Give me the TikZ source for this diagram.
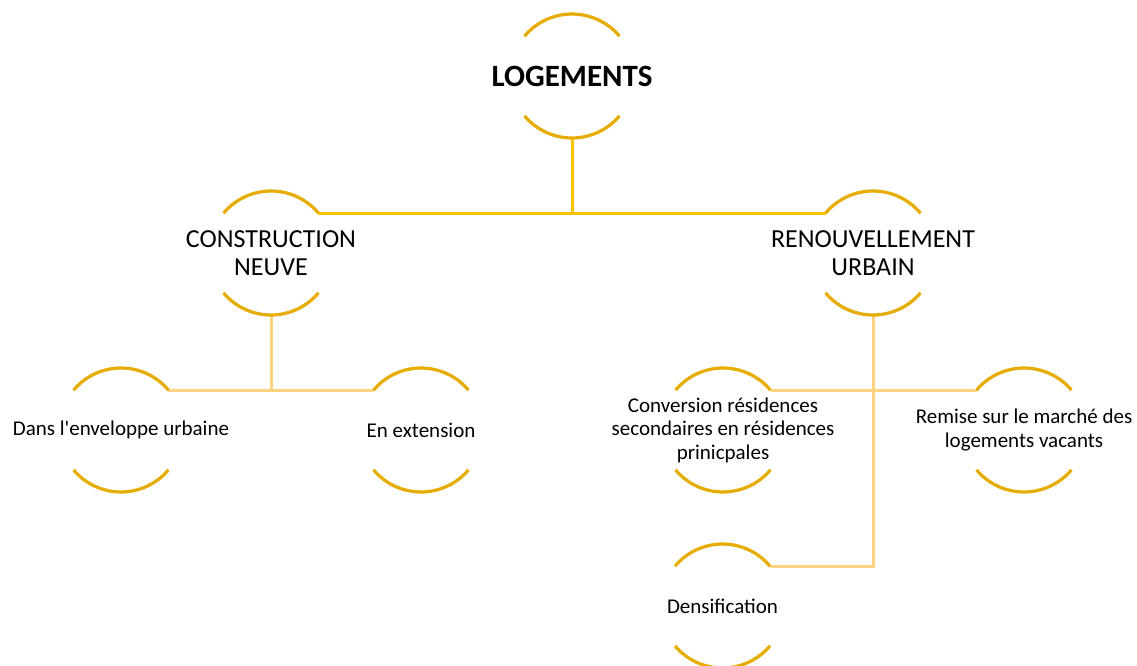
\documentclass[tikz,border=0pt]{standalone}
\usepackage{fontspec}
\setmainfont{Carlito}[Ligatures=TeXOff]
\usetikzlibrary{calc}
\definecolor{arcc}{HTML}{E6AC00}
\definecolor{topc}{HTML}{FFC000}
\definecolor{lowc}{HTML}{FFD37F}
\newcommand\ringpts[1]{%
  \coordinate (#1-tr) at ($(#1.center)+(40:62)$);
  \coordinate (#1-tl) at ($(#1.center)+(140:62)$);
  \coordinate (#1-b) at ($(#1.center)+(270:62)$);
  \coordinate (#1-bl) at ($(#1.center)+(220:62)$);}
\newcommand\ringarcs[1]{%
  \draw[arcline] (#1-tr) arc[start angle=40,end angle=140,radius=62];
  \draw[arcline] (#1-bl) arc[start angle=220,end angle=320,radius=62];}
\begin{document}
\begin{tikzpicture}[x=1pt,y=1pt,
  arcline/.style={draw=arcc,line width=3.2pt},
  topline/.style={draw=topc,line width=3pt},
  lowline/.style={draw=lowc,line width=3pt},
  bigtxt/.style={font=\fontsize{31}{37}\selectfont\bfseries, align=center, inner sep=0pt},
  midtxt/.style={font=\fontsize{26}{28}\selectfont, align=center, inner sep=0pt},
  smalltxt/.style={font=\fontsize{21}{23.5}\selectfont, align=center, inner sep=0pt}]
\useasboundingbox (0,0) rectangle (1137,-665);
\clip (0,0) rectangle (1137,-665);
\fill[white] (0,0) rectangle (1137,-665);

\node[bigtxt] (L) at (572,-76) {LOGEMENTS};
\node[midtxt] (C) at (271,-253) {CONSTRUCTION\\NEUVE};
\node[midtxt] (R) at (873,-253) {RENOUVELLEMENT\\URBAIN};
\node[smalltxt] (D) at (121,-430) {Dans l'enveloppe urbaine};
\node[smalltxt] (E) at (421,-430) {En extension};
\node[smalltxt] (V) at (723,-430) {Conversion résidences\\secondaires en résidences\\prinicpales};
\node[smalltxt] (M) at (1024,-430) {Remise sur le marché des\\logements vacants};
\node[smalltxt] (S) at (722.5,-606) {Densification};

\ringpts{L}\ringpts{C}\ringpts{R}\ringpts{D}\ringpts{E}\ringpts{V}\ringpts{M}\ringpts{S}

% connectors
\draw[topline] (L-b) -- (L-b |- C-tr);
\draw[topline] (C-tr) -- (R-tl);
\draw[lowline] (C-b) -- (C-b |- D-tr);
\draw[lowline] (D-tr) -- (E-tl);
\draw[lowline] (V-tr) -- (M-tl);
\draw[lowline] (R-b) |- (S-tr);

\ringarcs{L}\ringarcs{C}\ringarcs{R}\ringarcs{D}\ringarcs{E}\ringarcs{V}\ringarcs{M}\ringarcs{S}
\end{tikzpicture}
\end{document}
